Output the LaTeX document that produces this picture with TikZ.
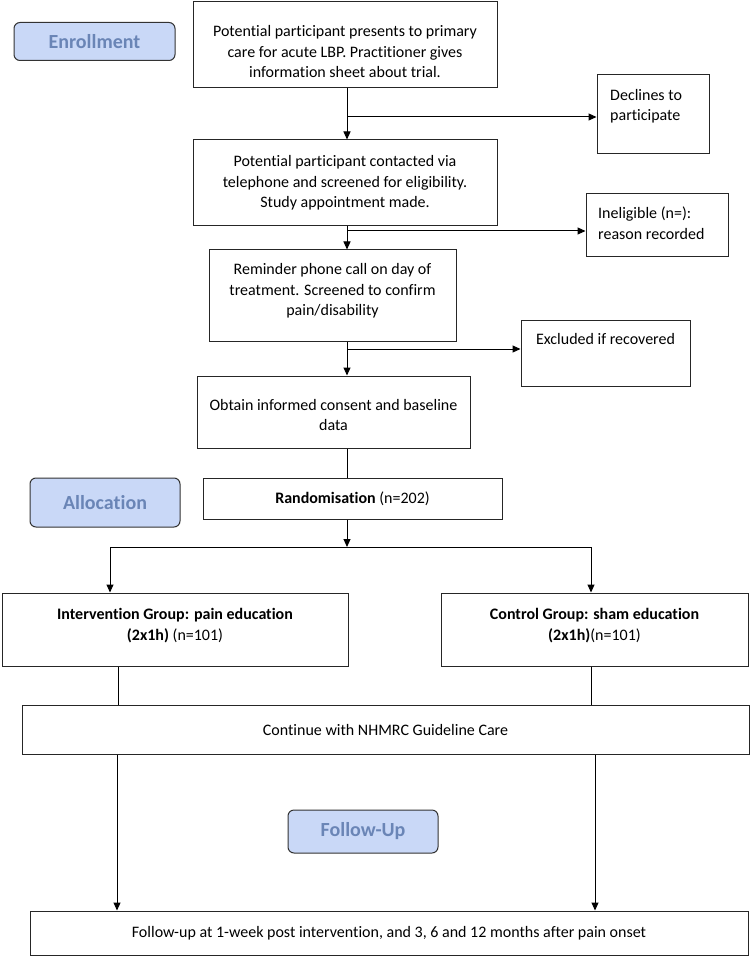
\documentclass[tikz,border=0pt]{standalone}
\usepackage{fontspec}
\setmainfont{Carlito}[Ligatures=NoCommon]
\usetikzlibrary{arrows.meta}
\definecolor{phasefill}{HTML}{C9D8F7}
\definecolor{phasetext}{HTML}{6A85B6}
\begin{document}
\begin{tikzpicture}[x=1pt,y=-1pt,
  box/.style={draw=black!85, line width=1pt, fill=white, inner sep=0pt},
  phase/.style={draw=black!80, line width=1pt, rounded corners=6pt, fill=phasefill, text=phasetext, inner sep=0pt, font=\fontsize{20}{24}\selectfont\bfseries},
  txt/.style={align=center, inner sep=0pt, font=\fontsize{16}{20.5}\selectfont},
  ltxt/.style={align=left, inner sep=0pt, font=\fontsize{16}{20.5}\selectfont},
  arr/.style={line width=1pt, -{Triangle[length=8pt,width=7pt]}},
  ln/.style={line width=1pt}]
\fill[white] (0,0) rectangle (750,957);
\useasboundingbox (0,0) rectangle (750,957);

% phase labels
\node[phase, minimum width=161pt, minimum height=38pt] (enr) at (94.5,41.5) {Enrollment};
\node[phase, minimum width=150pt, minimum height=49pt] (alloc) at (105,502.5) {Allocation};
\node[phase, minimum width=150pt, minimum height=43pt] (fol) at (363,831.5) {Follow-Up};

% boxes
\node[box, minimum width=304pt, minimum height=86pt] (b1) at (345,45) {};
\node[txt] (t1) at (345,52) {Potential participant presents to primary\\care for acute LBP. Practitioner gives\\information sheet about trial.};

\node[box, minimum width=112pt, minimum height=79pt] (dec) at (653,114.5) {};
\node[ltxt, anchor=north west] (tdec) at (610,89) {Declines to\\participate};

\node[box, minimum width=304pt, minimum height=86pt] (b2) at (345,183) {};
\node[txt] (t2) at (345,183) {Potential participant contacted via\\telephone and screened for eligibility.\\Study appointment made.};

\node[box, minimum width=142pt, minimum height=63pt] (ine) at (657,225) {};
\node[ltxt, anchor=north west] (tine) at (598,207) {Ineligible (n=):\\reason recorded};

\node[box, minimum width=247pt, minimum height=91pt] (b3) at (332.5,295.5) {};
\node[txt] (t3) at (332.5,291) {Reminder phone call on day of\\treatment. Screened to confirm\\pain/disability};

\node[box, minimum width=169pt, minimum height=66pt] (exc) at (605.5,353) {};
\node[txt, anchor=north] (texc) at (605.5,333) {Excluded if recovered};

\node[box, minimum width=273pt, minimum height=72pt] (b4) at (333.5,412) {};
\node[txt] (t4) at (333.5,415) {Obtain informed consent and baseline\\data};

\node[box, minimum width=299pt, minimum height=41pt] (rand) at (352.5,498.5) {};
\node[txt] (trand) at (352.5,498.5) {\textbf{Randomisation} (n=202)};

\node[box, minimum width=346pt, minimum height=73pt] (int) at (175,629.5) {};
\node[txt] (tint) at (175,625.5) {\textbf{Intervention Group: pain education}\\\textbf{(2x1h)} (n=101)};

\node[box, minimum width=307pt, minimum height=73pt] (ctl) at (594.5,629.5) {};
\node[txt] (tctl) at (594.5,625.5) {\textbf{Control Group: sham education}\\\textbf{(2x1h)}(n=101)};

\node[box, minimum width=727pt, minimum height=49pt] (cont) at (385.5,729.5) {};
\node[txt] (tcont) at (385.5,729.5) {Continue with NHMRC Guideline Care};

\node[box, minimum width=718pt, minimum height=44pt] (fu) at (389,933) {};
\node[txt] (tfu) at (389,933) {Follow-up at 1-week post intervention, and 3, 6 and 12 months after pain onset};

% connectors
\coordinate (j1) at (347,117);
\draw[arr] (b1.south -| j1) -- (b2.north -| j1);
\draw[arr] (j1) -- (j1 -| dec.west);
\coordinate (j2) at (347,231);
\draw[arr] (b2.south -| j2) -- (b3.north -| j2);
\draw[arr] (j2) -- (j2 -| ine.west);
\coordinate (j3) at (347,349);
\draw[arr] (b3.south -| j3) -- (b4.north -| j3);
\draw[arr] (j3) -- (j3 -| exc.west);
\draw[ln] (b4.south -| j3) -- (rand.north -| j3);
\coordinate (j4) at (347,547);
\draw[arr] (rand.south -| j4) -- (j4);
\coordinate (jL) at (110,547);
\coordinate (jR) at (591,547);
\draw[ln] (jL) -- (jR);
\draw[arr] (jL) -- (int.north -| jL);
\draw[arr] (jR) -- (ctl.north -| jR);
\coordinate (kL) at (118,0);
\coordinate (kR) at (591,0);
\draw[ln] (int.south -| kL) -- (cont.north -| kL);
\draw[ln] (ctl.south -| kR) -- (cont.north -| kR);
\coordinate (mL) at (117,0);
\coordinate (mR) at (595,0);
\draw[arr] (cont.south -| mL) -- (fu.north -| mL);
\draw[arr] (cont.south -| mR) -- (fu.north -| mR);
\end{tikzpicture}
\end{document}
